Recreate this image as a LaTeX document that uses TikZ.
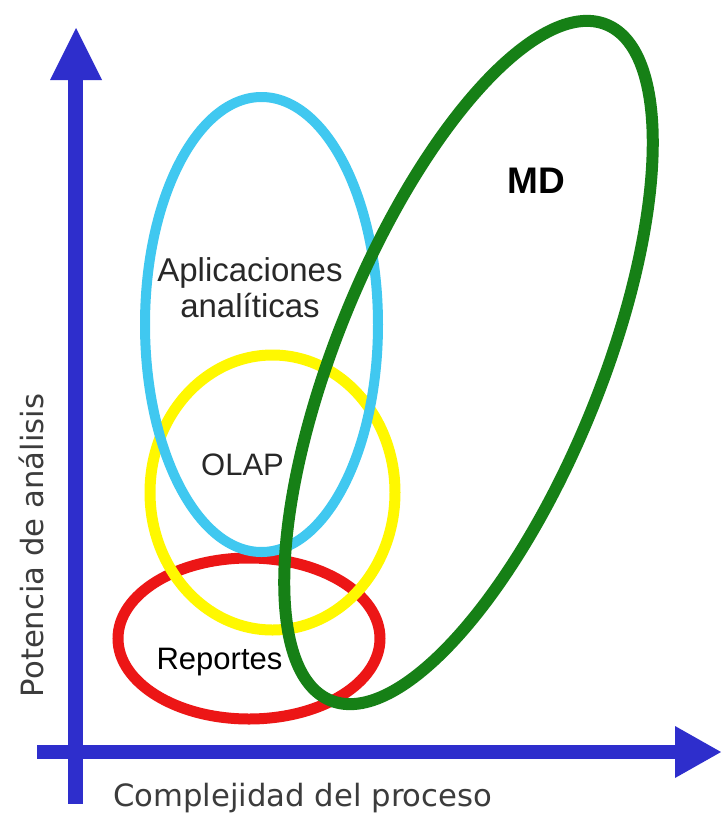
\documentclass[tikz,border=0pt]{standalone}
\usepackage{fontspec}
\setmainfont{Liberation Sans}
\newfontfamily\axisfont{DejaVu Sans}
\definecolor{axisblue}{RGB}{46,46,204}
\definecolor{ringcyan}{RGB}{64,200,240}
\definecolor{ringyellow}{RGB}{255,248,0}
\definecolor{ringred}{RGB}{236,22,22}
\definecolor{ringgreen}{RGB}{22,128,22}
\definecolor{txtgray}{RGB}{40,40,40}
\definecolor{axtxt}{RGB}{60,60,60}
\begin{document}
\begin{tikzpicture}[x=1pt,y=-1pt,
  axisfill/.style={fill=axisblue},
  ring/.style={line width=#1},
  lbl/.style={inner sep=0pt, text=txtgray},
  axlbl/.style={inner sep=0pt, text=axtxt, font=\axisfont\fontsize{30.7}{32}\selectfont}]
\useasboundingbox (0,0) rectangle (721,814);
\fill[white] (0,0) rectangle (721,814);
% axes
\fill[axisfill] (67.5,804) rectangle (82.5,79);
\fill[axisfill] (50,80) -- (76,28) -- (102,80) -- cycle;
\fill[axisfill] (37,745) rectangle (676,759);
\fill[axisfill] (675,726) -- (721,752) -- (675,778) -- cycle;
% rings
\draw[ringred, ring=11pt] (249,638.5) ellipse [x radius=131, y radius=80.5];
\draw[ringyellow, ring=11pt] (272.5,492.5) ellipse [x radius=122.5, y radius=137.5];
\draw[ringcyan, ring=10pt] (261.5,324.5) ellipse [x radius=116.5, y radius=227.5];
\draw[ringgreen, ring=12pt, rotate around={67.8:(468.5,362.5)}] (468.5,362.5) ellipse [x radius=365, y radius=132];
% labels
\node[lbl, align=center, font=\fontsize{33}{36}\selectfont] (apl) at (250,288) {Aplicaciones\\analíticas};
\node[lbl, anchor=base, font=\fontsize{31}{31}\selectfont] (olap) at (242.5,475) {OLAP};
\node[lbl, anchor=base, text=black, font=\fontsize{31}{31}\selectfont] (rep) at (219.5,669) {Reportes};
\node[lbl, anchor=base, text=black, font=\bfseries\fontsize{37}{37}\selectfont] (md) at (536,193) {MD};
\node[axlbl, anchor=base west] (xlab) at (113,806) {Complejidad del proceso};
\node[axlbl, anchor=base, rotate=90] (ylab) at (43,545.5) {Potencia de análisis};
\end{tikzpicture}
\end{document}
